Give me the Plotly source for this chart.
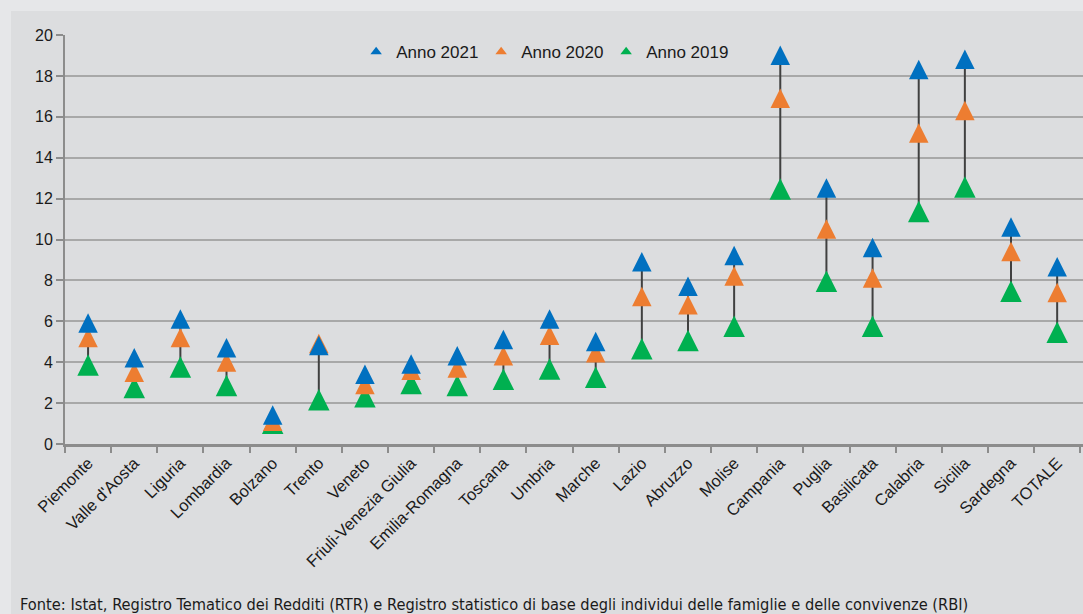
import plotly.graph_objects as go

regioni = ['Piemonte', "Valle d'Aosta", 'Liguria', 'Lombardia', 'Bolzano', 'Trento', 'Veneto',
           'Friuli-Venezia Giulia', 'Emilia-Romagna', 'Toscana', 'Umbria', 'Marche', 'Lazio',
           'Abruzzo', 'Molise', 'Campania', 'Puglia', 'Basilicata', 'Calabria', 'Sicilia',
           'Sardegna', 'TOTALE']

anno_2021 = [5.9, 4.2, 6.1, 4.7, 1.4, 4.8, 3.4, 3.9, 4.3, 5.1, 6.1, 5.0, 8.9,
             7.7, 9.2, 19.0, 12.5, 9.6, 18.3, 18.8, 10.6, 8.65]
anno_2020 = [5.2, 3.5, 5.2, 4.0, 1.1, 4.9, 2.9, 3.6, 3.7, 4.3, 5.3, 4.45, 7.2,
             6.8, 8.2, 16.9, 10.5, 8.1, 15.2, 16.3, 9.4, 7.4]
anno_2019 = [3.9, 2.8, 3.8, 2.9, 1.05, 2.2, 2.35, 3.0, 2.9, 3.2, 3.7, 3.3, 4.7,
             5.1, 5.8, 12.5, 8.0, 5.8, 11.4, 12.6, 7.5, 5.5]

serie = [('Anno 2021', anno_2021, '#0070C0', 19.5),
         ('Anno 2020', anno_2020, '#ED7D31', 19.5),
         ('Anno 2019', anno_2019, '#00B050', 21.5)]

fonte = ('Fonte: Istat, Registro Tematico dei Redditi (RTR) e Registro statistico di base '
         'degli individui delle famiglie e delle convivenze (RBI)')

W, H = 1083, 614
ML, MR, MT, MB = 65, 0, 35, 170
PH = H - MT - MB
# il simbolo arrow-up ha la punta sul punto: asse gemello spostato di mezzo marker
d = 10 / PH * 20

fig = go.Figure()

# linee max-min
lx, ly = [], []
for r, lo, hi in zip(regioni, anno_2019, anno_2021):
    lx += [r, r, None]
    ly += [lo, hi, None]
fig.add_trace(go.Scatter(x=lx, y=ly, mode='lines', line=dict(color='#404040', width=2),
                         showlegend=False, hoverinfo='skip'))

# marker (2019 sotto, 2021 sopra)
for nome, vals, col, sz in reversed(serie):
    fig.add_trace(go.Scatter(x=regioni, y=vals, yaxis='y2', mode='markers', name=nome,
                             showlegend=False,
                             marker=dict(symbol='arrow-up', size=sz, color=col)))

# voci di legenda con marker piccoli
for nome, vals, col, sz in serie:
    fig.add_trace(go.Scatter(x=[None], y=[None], mode='markers', name=nome,
                             marker=dict(symbol='triangle-up', size=10, color=col)))

fig.update_layout(
    width=W, height=H,
    margin=dict(l=ML, r=MR, t=MT, b=MB),
    paper_bgcolor='#e6e7e9',
    plot_bgcolor='#dcdddf',
    font=dict(family='Liberation Sans, Arial, sans-serif', color='#1a1a1a'),
    showlegend=True,
    legend=dict(orientation='h', x=0.286, y=0.958, xanchor='left', yanchor='middle',
                bgcolor='rgba(0,0,0,0)', font=dict(size=17), entrywidth=80,
                entrywidthmode='pixels', itemclick=False),
    xaxis=dict(type='category', range=[-0.5, 21.56], tickson='boundaries',
               ticks='outside', ticklen=6, tickcolor='#8c8c8c', tickwidth=2,
               tickangle=-45, tickfont=dict(size=16.5),
               showline=True, linecolor='#8c8c8c', linewidth=3, showgrid=False),
    yaxis=dict(range=[0, 20], dtick=2, ticks='outside', ticklen=7, tickcolor='#8c8c8c',
               tickwidth=2, tickfont=dict(size=16), showline=True, linecolor='#8c8c8c',
               linewidth=2, gridcolor='#a8a8a8', gridwidth=1.5, zeroline=False),
    yaxis2=dict(overlaying='y', range=[-d, 20 - d], visible=False, fixedrange=True),
)

# pannello interno
fig.add_shape(type='rect', xref='paper', yref='paper', layer='below',
              x0=(11 - ML) / (W - ML - MR), x1=1.01,
              y0=-MB / PH - 0.01, y1=1 + (MT - 11) / PH,
              fillcolor='#dcdddf', line=dict(width=0))

fig.add_annotation(text=fonte, xref='paper', yref='paper', x=-47 / (W - ML - MR),
                   y=-(604 - 444) / PH, xanchor='left', yanchor='middle',
                   showarrow=False,
                   font=dict(family='Liberation Sans Narrow, DejaVu Sans Condensed, sans-serif',
                             size=16.3, color='#1a1a1a'))

fig.write_html('out.html', config={'displayModeBar': False},
               post_script="document.body.style.margin='0';")
